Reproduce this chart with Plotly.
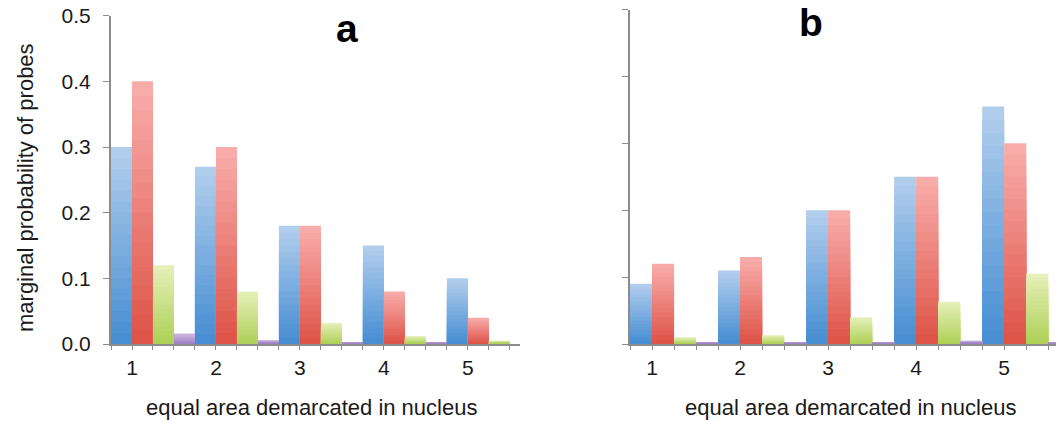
import plotly.graph_objects as go

categories = [1, 2, 3, 4, 5]
tick_labels = ["1", "2", "3", "4", "5"]

# panel a
a_blue = [0.30, 0.27, 0.18, 0.15, 0.10]
a_red = [0.40, 0.30, 0.18, 0.08, 0.04]
a_green = [0.12, 0.08, 0.032, 0.012, 0.005]
a_purple = [0.016, 0.006, 0.002, 0.002, 0.0]

# panel b
b_blue = [0.09, 0.11, 0.20, 0.25, 0.355]
b_red = [0.12, 0.13, 0.20, 0.25, 0.30]
b_green = [0.01, 0.013, 0.04, 0.063, 0.105]
b_purple = [0.003, 0.003, 0.003, 0.005, 0.003]

# gradient colours (top, bottom) per series
grad = [
    ((176, 205, 236), (72, 142, 211)),   # blue
    ((248, 172, 170), (222, 84, 72)),    # red
    ((229, 239, 184), (174, 209, 88)),   # green
    ((206, 186, 224), (160, 128, 198)),  # purple
]
offsets = [-0.25, 0.0, 0.25, 0.5]
STEPS = 18

W, H = 1064, 421
PAGE_OFF = 8  # browser body margin offset


def px(x):
    return (x - PAGE_OFF) / W


def py(y):
    return 1 - (y - PAGE_OFF) / H


fig = go.Figure()
FONT = "Liberation Sans, Arial, sans-serif"


def mix(c1, c2, t):
    return "rgb(%d,%d,%d)" % tuple(round(a + (b - a) * t) for a, b in zip(c1, c2))


for series, xa, ya in [
    ([a_blue, a_red, a_green, a_purple], "x", "y"),
    ([b_blue, b_red, b_green, b_purple], "x2", "y2"),
]:
    for vals, (top, bot), off in zip(series, grad, offsets):
        # overlay of progressively shorter, darker bars -> vertical gradient
        for i in range(STEPS):
            frac = 1 - i / STEPS
            fig.add_trace(go.Bar(
                x=categories, y=[v * frac for v in vals], xaxis=xa, yaxis=ya,
                width=0.25, offset=off,
                marker=dict(color=mix(top, bot, i / (STEPS - 1)), line=dict(width=0)),
                showlegend=False, hoverinfo="skip" if i else None,
            ))

line_style = dict(
    showline=True, linecolor="#8c8c8c", linewidth=2,
    showgrid=False, zeroline=False,
    tickcolor="#8c8c8c", tickwidth=1, automargin=False,
    ticklabeloverflow="allow",
)

xcommon = dict(
    tickmode="array", tickvals=categories, ticktext=tick_labels,
    ticks="outside", ticklen=4, ticklabelstandoff=0,
    minor=dict(dtick=0.25, tick0=0.75, ticks="outside", ticklen=4, tickcolor="#8c8c8c"),
    tickfont=dict(size=21), **line_style,
)

fig.update_layout(
    width=W, height=H,
    margin=dict(l=0, r=0, t=0, b=0, autoexpand=False),
    plot_bgcolor="white", paper_bgcolor="white",
    barmode="overlay",
    font=dict(family=FONT, color="#1a1a1a", size=21),
    xaxis=dict(domain=[px(111), px(520)], range=[0.75, 5.62], anchor="y", **xcommon),
    yaxis=dict(domain=[py(344), py(15.7)], range=[0, 0.5], anchor="x",
               tickmode="array", tickvals=[0, 0.1, 0.2, 0.3, 0.4, 0.5],
               ticktext=["0.0", "0.1", "0.2", "0.3", "0.4", "0.5"],
               ticks="outside", ticklen=6, ticklabelstandoff=8,
               tickfont=dict(size=21), **line_style),
    xaxis2=dict(domain=[px(630), 1.0], range=[0.75, 5.77], anchor="y2", **xcommon),
    yaxis2=dict(domain=[py(344), py(9.5)], range=[0, 0.5], anchor="x2",
                tickmode="array", tickvals=[0, 0.1, 0.2, 0.3, 0.4, 0.5],
                showticklabels=False, ticks="outside", ticklen=6, **line_style),
)

annotations = [
    dict(text="<b>a</b>", x=347, y=28),
    dict(text="<b>b</b>", x=811, y=22),
]
for ann in annotations:
    fig.add_annotation(text=ann["text"], xref="paper", yref="paper",
                       x=px(ann["x"]), y=py(ann["y"]),
                       showarrow=False, font=dict(size=39, color="black"),
                       xanchor="center", yanchor="middle")

fig.add_annotation(text="marginal probability of probes", xref="paper", yref="paper",
                   x=px(25), y=py(188), textangle=-90, showarrow=False,
                   font=dict(size=22), xanchor="center", yanchor="middle")
for cx in (311, 850):
    fig.add_annotation(text="equal area demarcated in nucleus", xref="paper", yref="paper",
                       x=px(cx), y=py(407), showarrow=False,
                       font=dict(size=22), xanchor="center", yanchor="middle")

fig.write_html("out.html")
